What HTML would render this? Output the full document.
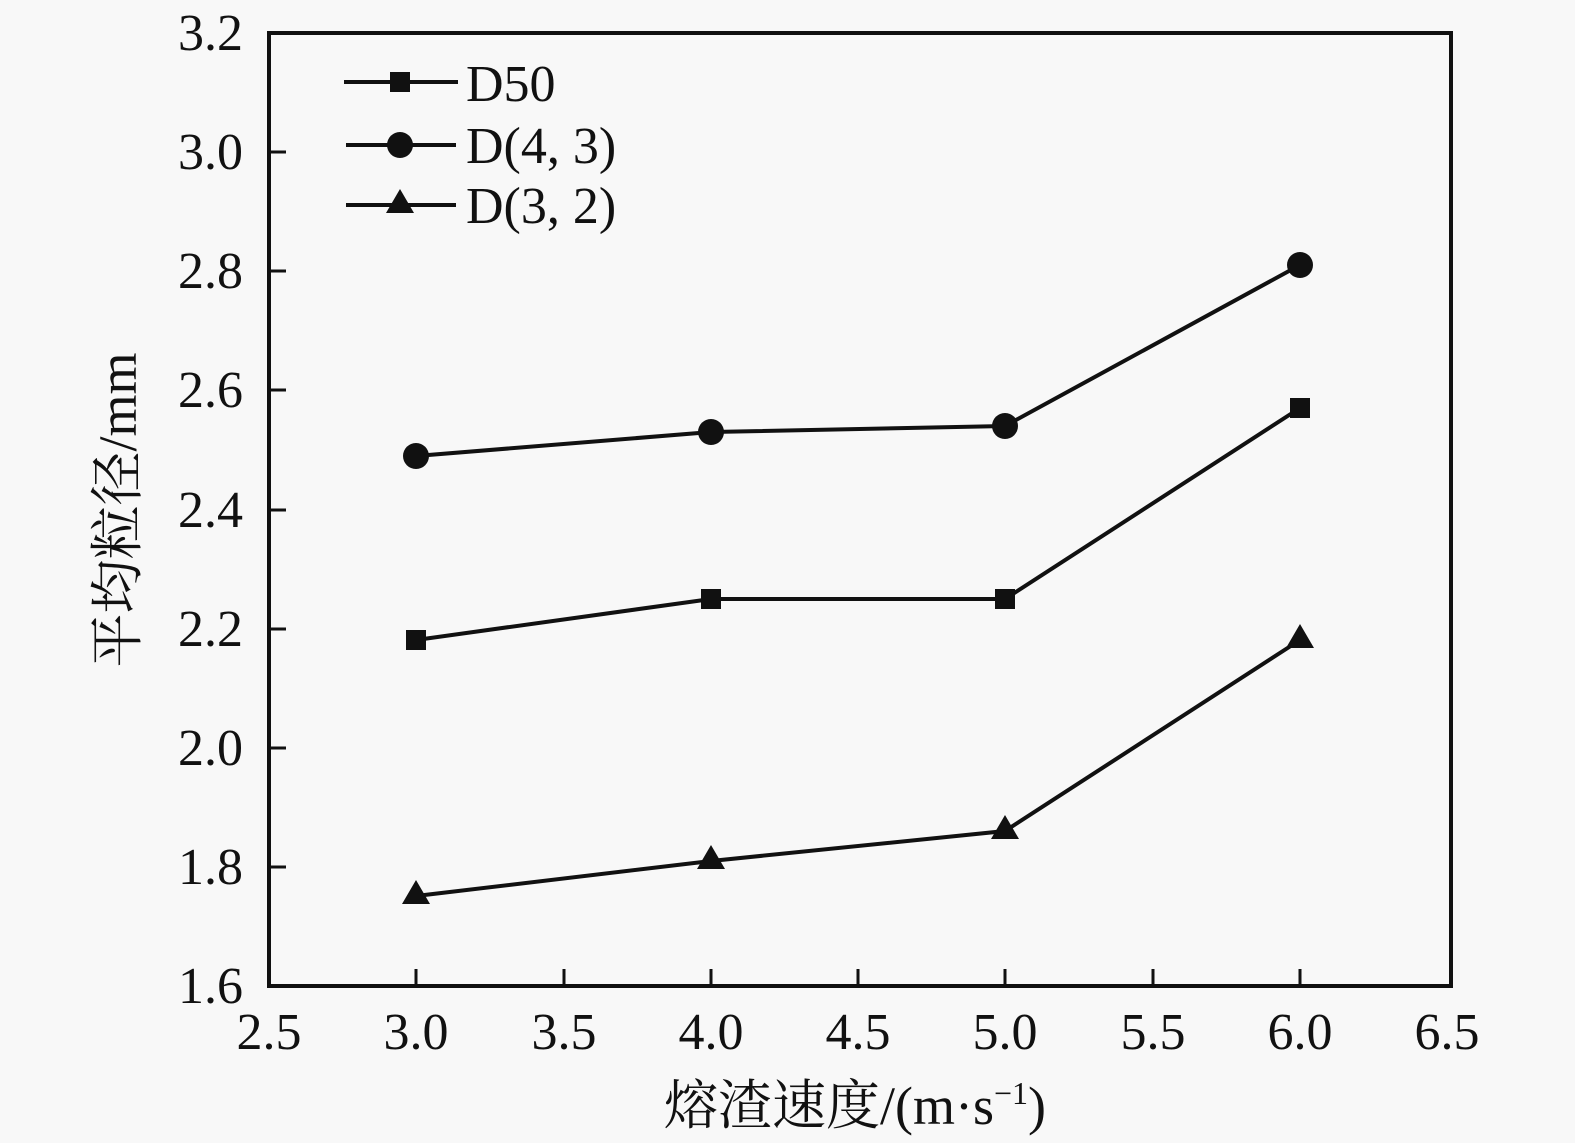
<!DOCTYPE html>
<html><head><meta charset="utf-8"><style>
html,body{margin:0;padding:0;background:#f8f8f8;}
svg{display:block;}
text{font-family:"Liberation Serif","Noto Serif CJK SC",serif;fill:#111;}
</style></head><body>
<svg width="1575" height="1143" viewBox="0 0 1575 1143">
<rect width="1575" height="1143" fill="#f8f8f8"/>
<g stroke="#111" stroke-width="4" fill="none">
<rect x="269" y="33" width="1182" height="953"/>
</g>
<g stroke="#111" stroke-width="3">
<line x1="416" y1="986" x2="416" y2="969"/>
<line x1="564" y1="986" x2="564" y2="969"/>
<line x1="711" y1="986" x2="711" y2="969"/>
<line x1="858" y1="986" x2="858" y2="969"/>
<line x1="1005" y1="986" x2="1005" y2="969"/>
<line x1="1153" y1="986" x2="1153" y2="969"/>
<line x1="1300" y1="986" x2="1300" y2="969"/>
<line x1="269" y1="152" x2="286" y2="152"/>
<line x1="269" y1="271" x2="286" y2="271"/>
<line x1="269" y1="390" x2="286" y2="390"/>
<line x1="269" y1="510" x2="286" y2="510"/>
<line x1="269" y1="629" x2="286" y2="629"/>
<line x1="269" y1="748" x2="286" y2="748"/>
<line x1="269" y1="867" x2="286" y2="867"/>
</g>
<g font-size="52" text-anchor="end">
<text x="243" y="50">3.2</text>
<text x="243" y="169">3.0</text>
<text x="243" y="288">2.8</text>
<text x="243" y="407">2.6</text>
<text x="243" y="527">2.4</text>
<text x="243" y="646">2.2</text>
<text x="243" y="765">2.0</text>
<text x="243" y="884">1.8</text>
<text x="243" y="1003">1.6</text>
</g>
<g font-size="52" text-anchor="middle">
<text x="269" y="1049">2.5</text>
<text x="416" y="1049">3.0</text>
<text x="564" y="1049">3.5</text>
<text x="711" y="1049">4.0</text>
<text x="858" y="1049">4.5</text>
<text x="1005" y="1049">5.0</text>
<text x="1153" y="1049">5.5</text>
<text x="1300" y="1049">6.0</text>
<text x="1447" y="1049">6.5</text>
</g>
<text x="855" y="1124" font-size="54" text-anchor="middle">熔渣速度/(m·s<tspan font-size="32" dy="-20">−1</tspan><tspan dy="20">)</tspan></text>
<text transform="translate(136,510) rotate(-90)" font-size="54" text-anchor="middle">平均粒径/mm</text>
<g stroke="#111" stroke-width="4" fill="none">
<polyline points="416,640 711,599 1005,599 1300,408"/>
<polyline points="416,456 711,432 1005,426 1300,265"/>
<polyline points="416,896 711,861 1005,831 1300,640"/>
<line x1="344" y1="82" x2="458" y2="82"/>
<line x1="346" y1="145" x2="456" y2="145"/>
<line x1="346" y1="205" x2="456" y2="205"/>
</g>
<g fill="#111">
<rect x="406" y="630" width="20" height="20"/>
<rect x="701" y="589" width="20" height="20"/>
<rect x="995" y="589" width="20" height="20"/>
<rect x="1290" y="398" width="20" height="20"/>
<rect x="390" y="72" width="20" height="20"/>
<circle cx="416" cy="456" r="13"/>
<circle cx="711" cy="432" r="13"/>
<circle cx="1005" cy="426" r="13"/>
<circle cx="1300" cy="265" r="13"/>
<circle cx="400" cy="145" r="13"/>
<polygon points="416,880 402,904 430,904"/>
<polygon points="711,845 697,869 725,869"/>
<polygon points="1005,815 991,839 1019,839"/>
<polygon points="1300,624 1286,648 1314,648"/>
<polygon points="400,189 386,213 414,213"/>
</g>
<g font-size="52">
<text x="466" y="101">D50</text>
<text x="466" y="163">D(4, 3)</text>
<text x="466" y="223">D(3, 2)</text>
</g>
</svg>
</body></html>
